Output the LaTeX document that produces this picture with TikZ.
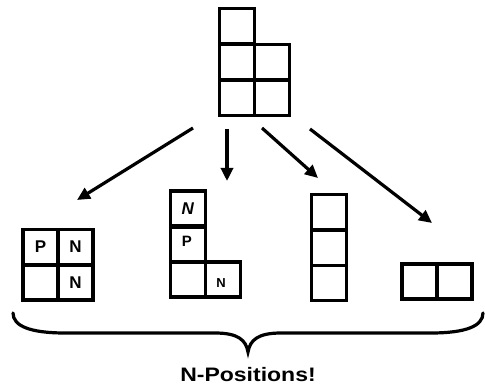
\documentclass[tikz,border=0pt]{standalone}
\usepackage{fontspec}
\setmainfont{Liberation Sans}
\usetikzlibrary{arrows.meta}
\begin{document}
\begin{tikzpicture}[x=1pt,y=-1pt,
  cell/.style={draw=black,line width=3.5pt,minimum size=35pt,inner sep=0pt,
    font=\fontsize{17}{17}\selectfont\bfseries},
  mv/.style={line width=3.2pt,-{Triangle[length=13pt,width=12pt]}},
  brace/.style={line width=3.2pt,line cap=round}]
\useasboundingbox (0,0) rectangle (485,387);
% top shape
\node[cell] (t1) at (237,26) {};
\node[cell] (t2) at (237,62) {};
\node[cell] (t3) at (272,62) {};
\node[cell] (t4) at (237,98) {};
\node[cell] (t5) at (272,98) {};
% shape A
\node[cell] (a1) at (40.5,247) {P};
\node[cell] (a2) at (75.5,247) {N};
\node[cell] (a3) at (40.5,282.5) {};
\node[cell] (a4) at (75.5,282.5) {N};
% shape B
\node[cell] (b1) at (188,208.5) {\textit{N}};
\node[cell] (b2) at (188,244.5) {};
\node[cell] (b3) at (188,279.5) {};
\node[cell] (b4) at (223,279.5) {};
\node[font=\fontsize{15}{15}\selectfont\bfseries] (bp) at (187,241) {P};
\node[font=\fontsize{13}{13}\selectfont\bfseries] (bn) at (221,283) {N};
% shape C
\node[cell] (c1) at (329,212) {};
\node[cell] (c2) at (329,248) {};
\node[cell] (c3) at (329,283) {};
% shape D
\node[cell] (d1) at (419.5,281.5) {};
\node[cell] (d2) at (454.5,281.5) {};
% arrow coordinates
\coordinate (s1) at (193,128); \coordinate (e1) at (77,200);
\coordinate (s2) at (227,129); \coordinate (e2) at (227,181);
\coordinate (s3) at (262,128); \coordinate (e3) at (318,178);
\coordinate (s4) at (310,129); \coordinate (e4) at (432,223);
\draw[mv] (s1) -- (e1);
\draw[mv] (s2) -- (e2);
\draw[mv] (s3) -- (e3);
\draw[mv] (s4) -- (e4);
% brace
\coordinate (bl) at (13,313);
\coordinate (bt) at (248,352);
\coordinate (br) at (483,313);
\draw[brace] (bl) .. controls (13,326) and (30,333) .. (65,333)
  -- (215,333) .. controls (238,333) and (246,340) .. (bt)
  .. controls (250,340) and (258,333) .. (281,333)
  -- (431,333) .. controls (466,333) and (483,326) .. (br);
\node[font=\fontsize{19.5}{20}\selectfont\bfseries] (lab) at (248,375)
  {\scalebox{1.18}[1]{N-Positions!}};
\end{tikzpicture}
\end{document}
